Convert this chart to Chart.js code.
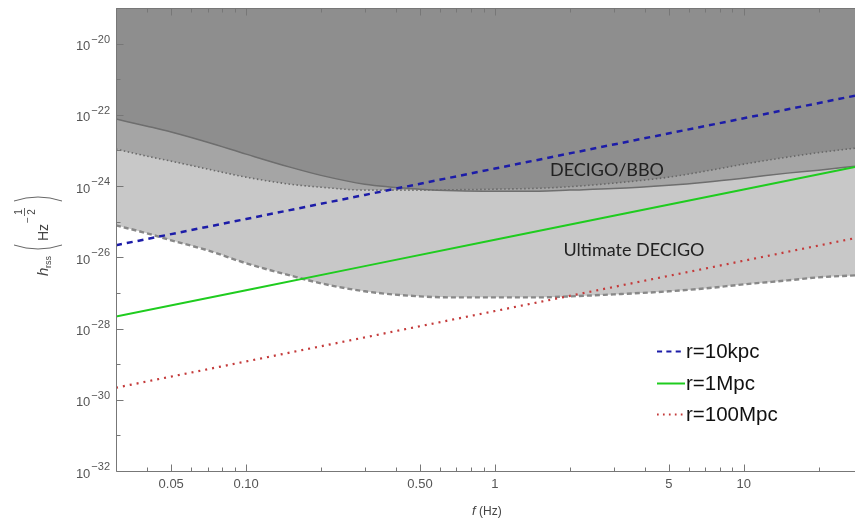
<!DOCTYPE html>
<html>
<head>
<meta charset="utf-8">
<script src="https://cdn.jsdelivr.net/npm/chart.js@4.4.1/dist/chart.umd.min.js"></script>
<style>
  html, body { margin: 0; padding: 0; background: #fff; }
</style>
</head>
<body>
<canvas id="chart" width="855" height="523"></canvas>
<script>
const curveFreq = [0.03, 0.04, 0.05, 0.07, 0.1, 0.15, 0.2, 0.3, 0.5, 0.7, 1, 1.5, 2, 3, 5, 7, 10, 15, 20, 28];
const bbo = [7.6e-23, 4.8e-23, 3.3e-23, 1.7e-23, 7.9e-24, 3.4e-24, 2.0e-24, 1.13e-24, 8.2e-25, 7.4e-25, 7.2e-25, 7.2e-25, 7.7e-25, 8.5e-25, 1.06e-24, 1.29e-24, 1.67e-24, 2.31e-24, 2.8e-24, 3.6e-24];
const decigo = [1.09e-23, 6.9e-24, 5.0e-24, 3.0e-24, 1.78e-24, 1.13e-24, 9.3e-25, 7.7e-25, 7.7e-25, 7.9e-25, 8.2e-25, 8.7e-25, 9.6e-25, 1.21e-24, 1.78e-24, 2.62e-24, 4.13e-24, 6.5e-24, 8.7e-24, 1.16e-23];
const ultimate = [7.9e-26, 4.7e-26, 3.0e-26, 1.57e-26, 6.8e-27, 3.1e-27, 1.86e-27, 1.11e-27, 8.0e-28, 7.5e-28, 7.5e-28, 7.5e-28, 8.0e-28, 9.1e-28, 1.11e-27, 1.34e-27, 1.74e-27, 2.25e-27, 2.74e-27, 3.1e-27];

// signal curves
const lineFreq = [0.03, 0.1, 0.3, 1, 3, 10, 28];
const r10kpc = [2.18e-26, 1.19e-25, 5.65e-25, 3.1e-24, 1.47e-23, 8.0e-23, 3.45e-22];
const r1Mpc = [2.18e-28, 1.19e-27, 5.65e-27, 3.1e-26, 1.47e-25, 8.0e-25, 3.45e-24];
const r100Mpc = [2.18e-30, 1.19e-29, 5.65e-29, 3.1e-28, 1.47e-27, 8.0e-27, 3.45e-26];

// ticks
const xMajor = [0.05, 0.1, 0.5, 1, 5, 10];
const xMajorLabels = ['0.05', '0.10', '0.50', '1', '5', '10'];
const xMinor = [0.04, 0.06, 0.07, 0.08, 0.09, 0.2, 0.3, 0.4, 0.6, 0.7, 0.8, 0.9, 2, 3, 4, 6, 7, 8, 9, 20];
const yMajorExp = [-32, -30, -28, -26, -24, -22, -20];
const yMinorExp = [-31, -29, -27, -25, -23, -21];

const pts = (xs, ys) => xs.map((x, i) => ({ x, y: ys[i] }));
const shade = 'rgba(100,100,100,0.355)';

const curve = (label, data, color, dash, width) => ({
    label, data, borderColor: color, borderDash: dash, borderWidth: width,
    fill: false, pointRadius: 0, tension: 0
});
const region = (data, color, dash, width) => ({
    data, borderColor: color, borderDash: dash, borderWidth: width,
    backgroundColor: shade, fill: 'end', pointRadius: 0, cubicInterpolationMode: 'monotone'
});

const datasets = [
    curve('r=10kpc', pts(lineFreq, r10kpc), '#1c1ca8', [6, 5], 2.5),
    curve('r=1Mpc', pts(lineFreq, r1Mpc), '#1fcc1f', [], 2),
    curve('r=100Mpc', pts(lineFreq, r100Mpc), '#c43a3a', [2, 5], 2.2),
    region(pts(curveFreq, bbo), '#6e6e6e', [], 1.5),
    region(pts(curveFreq, decigo), '#6a6a6a', [1.5, 2.5], 1.6),
    region(pts(curveFreq, ultimate), '#888', [5, 3], 2.4)
];

function drawSup(ctx, base, sup, xRight, yMid) {
    ctx.font = '11px "Liberation Sans"';
    const ws = ctx.measureText(sup).width;
    ctx.font = '13px "Liberation Sans"';
    const wb = ctx.measureText(base).width;
    ctx.textAlign = 'left';
    ctx.textBaseline = 'middle';
    ctx.fillText(base, xRight - ws - wb - 1, yMid + 3);
    ctx.font = '11px "Liberation Sans"';
    ctx.fillText(sup, xRight - ws, yMid - 4);
}

const frame = {
    id: 'frame',
    afterDatasetsDraw(chart) {
        const { ctx, chartArea: a, scales: { x, y } } = chart;
        const L = Math.round(a.left) + 0.5, B = Math.round(a.bottom) + 0.5, T = Math.round(a.top) + 0.5;
        ctx.save();
        ctx.strokeStyle = '#777';
        ctx.lineWidth = 1;
        ctx.beginPath();
        ctx.moveTo(a.right, T); ctx.lineTo(L, T); ctx.lineTo(L, B); ctx.lineTo(a.right, B);
        ctx.stroke();

        ctx.beginPath();
        const xt = (v, len) => {
            const p = Math.round(x.getPixelForValue(v)) + 0.5;
            ctx.moveTo(p, B); ctx.lineTo(p, B - len);
            ctx.moveTo(p, T); ctx.lineTo(p, T + len);
        };
        xMajor.forEach(v => xt(v, 7));
        xMinor.forEach(v => xt(v, 4));
        const yt = (e, len) => {
            const p = Math.round(y.getPixelForValue(Math.pow(10, e))) + 0.5;
            ctx.moveTo(L, p); ctx.lineTo(L + len, p);
        };
        yMajorExp.forEach(e => yt(e, 7));
        yMinorExp.forEach(e => yt(e, 4));
        ctx.stroke();

        // tick labels
        ctx.fillStyle = '#555';
        ctx.font = '13px "Liberation Sans"';
        ctx.textAlign = 'center';
        ctx.textBaseline = 'middle';
        xMajor.forEach((v, i) => ctx.fillText(xMajorLabels[i], x.getPixelForValue(v), 484));
        yMajorExp.forEach(e => drawSup(ctx, '10', '\u2212' + Math.abs(e), 110, y.getPixelForValue(Math.pow(10, e))));

        // x title
        ctx.fillStyle = '#444';
        ctx.textAlign = 'left';
        ctx.textBaseline = 'alphabetic';
        ctx.font = 'italic 13px "Liberation Sans"';
        ctx.fillText('f', 472, 515);
        ctx.font = '12px "Liberation Sans"';
        ctx.fillText('(Hz)', 479, 515);

        // y title, rotated
        ctx.save();
        ctx.translate(48, 276);
        ctx.rotate(-Math.PI / 2);
        ctx.font = 'italic 15px "Liberation Sans"';
        ctx.fillText('h', 0, 0);
        ctx.font = '9px "Liberation Sans"';
        ctx.fillText('rss', 8, 3);
        ctx.strokeStyle = '#666';
        ctx.lineWidth = 1;
        ctx.beginPath();
        ctx.moveTo(31, -34); ctx.quadraticCurveTo(23, -10, 31, 14);
        ctx.moveTo(75, -34); ctx.quadraticCurveTo(83, -10, 75, 14);
        ctx.stroke();
        ctx.font = '14px "Liberation Sans"';
        ctx.fillText('Hz', 35, 0);
        ctx.font = '10px "Liberation Sans"';
        ctx.textAlign = 'center';
        ctx.fillText('\u2212', 56, -17);
        ctx.fillText('1', 64, -26);
        ctx.fillText('2', 64, -13);
        ctx.beginPath();
        ctx.moveTo(60, -23.5); ctx.lineTo(68, -23.5);
        ctx.stroke();
        ctx.restore();

        // region labels
        ctx.fillStyle = '#222';
        ctx.textAlign = 'center';
        ctx.textBaseline = 'middle';
        ctx.font = '18px Lato';
        ctx.fillText('DECIGO/BBO', 607, 170);
        ctx.fillText('Ultimate DECIGO', 634, 250);

        // legend
        const rows = [351, 383, 414];
        chart.data.datasets.slice(0, 3).forEach((ds, i) => {
            const yy = rows[i] + 0.5;
            ctx.strokeStyle = ds.borderColor;
            ctx.lineWidth = 2;
            ctx.setLineDash(ds.borderDash.length ? ds.borderDash.map(d => d * 0.85) : []);
            ctx.beginPath();
            ctx.moveTo(657, yy); ctx.lineTo(685, yy);
            ctx.stroke();
            ctx.setLineDash([]);
            ctx.fillStyle = '#111';
            ctx.textAlign = 'left';
            ctx.font = '20.5px "Liberation Sans"';
            ctx.fillText(ds.label, 686, rows[i] + 1);
        });
        ctx.restore();
    }
};

new Chart(document.getElementById('chart'), {
    type: 'line',
    data: { datasets },
    options: {
        responsive: false,
        animation: false,
        layout: { padding: { left: 116, top: 8, right: 0, bottom: 52 } },
        scales: {
            x: { type: 'logarithmic', min: 0.03, max: 28, display: false },
            y: { type: 'logarithmic', min: 1e-32, max: 1e-19, display: false }
        },
        plugins: { legend: { display: false }, tooltip: { enabled: false } }
    },
    plugins: [frame]
});
</script>
</body>
</html>
